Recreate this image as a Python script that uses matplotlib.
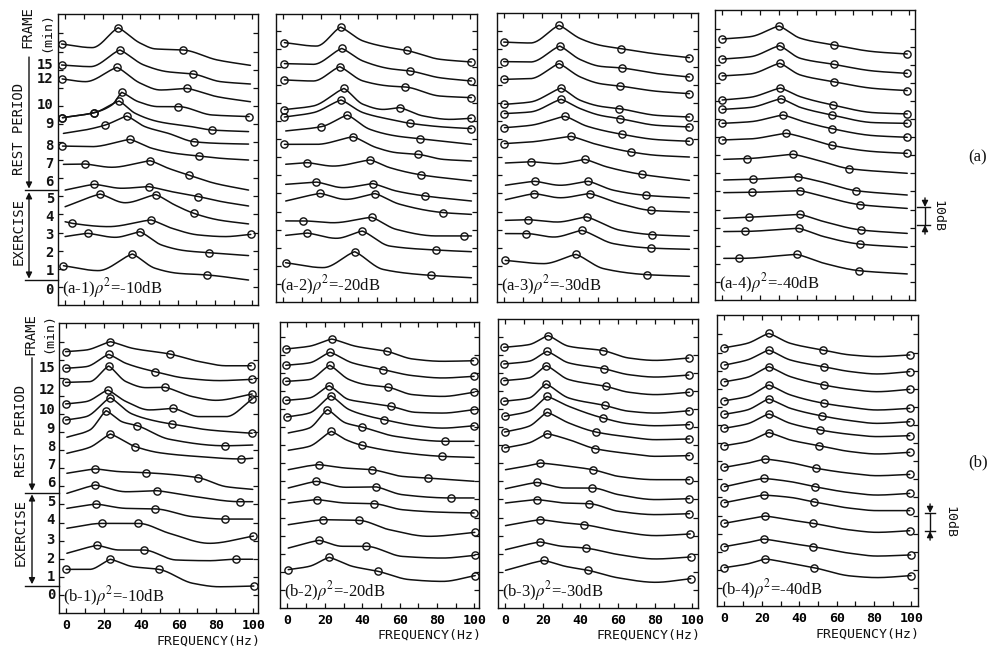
import numpy as np
import matplotlib
matplotlib.use("Agg")
import matplotlib.pyplot as plt
from matplotlib.transforms import blended_transform_factory

plt.rcParams['font.family'] = ['DejaVu Sans Mono', 'DejaVu Sans']
plt.rcParams['mathtext.fontset'] = 'stix'

# ---------------- data: (frequency Hz, level dB, circle-marker flag) ----------------
A1 = [
 [(-2.1,144.2,1),(14.3,142.2,0),(28.2,153.2,1),(40.1,144.6,0),(48.0,141.5,0),(62.9,140.9,1),(81.1,135.4,0),(98.9,132.4,0)],
 [(-2.1,132.6,1),(13.4,131.7,0),(29.1,140.9,1),(41.9,132.6,0),(54.4,128.9,0),(68.3,127.6,1),(82.9,123.4,0),(98.9,122.1,0)],
 [(-1.8,124.9,1),(10.7,123.4,0),(27.6,131.3,1),(40.1,122.5,0),(50.8,118.8,0),(65.1,119.7,1),(81.1,115.1,0),(98.9,112.3,0)],
 [(-1.6,103.5,1),(15.5,106.3,1),(24.8,110.5,0),(30.1,117.5,1),(39.0,112.3,0),(49.7,109.6,0),(60.4,109.6,1),(78.3,105.0,0),(98.2,104.1,1)],
 [(-1.6,103.5,1),(15.5,106.3,1),(28.7,112.7,1),(37.3,105.9,0),(49.7,101.3,0),(67.6,98.5,0),(78.3,96.7,1),(97.9,95.8,0)],
 [(-1.1,94.8,0),(10.5,96.7,0),(21.2,99.4,1),(32.8,104.4,1),(42.6,98.5,0),(55.1,94.8,0),(68.8,90.2,1),(81.8,89.3,0),(97.9,88.9,0)],
 [(-1.6,87.8,1),(14.1,87.5,0),(34.6,91.5,1),(46.2,86.6,0),(58.6,83.8,0),(71.5,82.3,1),(83.6,81.0,0),(97.9,80.1,0)],
 [(-1.1,77.7,0),(10.5,77.9,1),(24.8,76.1,0),(45.3,79.7,1),(55.1,75.5,0),(65.8,71.8,1),(80.0,67.2,0),(97.9,63.5,0)],
 [(-0.2,63.5,0),(15.5,66.7,1),(30.1,64.5,0),(44.4,65.4,1),(56.9,62.6,0),(71.1,59.9,1),(83.6,57.1,0),(97.9,54.7,0)],
 [(-0.2,54.3,0),(18.5,61.3,1),(31.9,56.5,0),(48.3,61.0,1),(58.6,55.2,0),(68.8,50.6,1),(81.8,47.0,0),(97.9,44.8,0)],
 [(-0.2,46.0,0),(3.7,45.1,1),(23.0,43.3,0),(45.8,47.0,1),(56.9,42.4,0),(71.1,38.7,0),(85.4,37.8,0),(99.1,39.0,1)],
 [(-0.2,37.8,0),(11.9,39.6,1),(26.6,37.4,0),(39.9,40.5,1),(51.5,33.1,0),(64.0,30.0,0),(76.5,28.9,1),(97.9,27.3,0)],
 [(-1.1,21.7,1),(17.6,19.0,0),(35.8,28.2,1),(47.9,20.3,0),(60.4,17.5,0),(75.6,16.6,1),(97.9,13.8,0)],
]
A2 = [
 [(0.5,143.3,1),(17.6,141.4,0),(30.5,151.9,1),(42.6,144.2,0),(56.9,140.5,0),(65.8,139.0,1),(83.6,134.1,0),(100.5,132.6,1)],
 [(0.5,131.7,1),(15.9,131.3,0),(31.2,140.1,1),(42.6,133.1,0),(56.9,128.9,0),(67.9,127.6,1),(83.6,123.9,0),(100.5,122.1,1)],
 [(0.5,122.7,1),(15.9,122.1,0),(30.1,130.0,1),(42.6,122.1,0),(56.9,119.3,0),(65.2,118.8,1),(83.6,113.8,0),(100.5,112.9,1)],
 [(0.5,106.3,1),(15.9,108.3,0),(32.4,118.0,1),(42.6,109.2,0),(53.3,106.4,0),(62.2,107.4,1),(74.7,102.8,0),(88.9,100.9,0),(100.5,101.5,1)],
 [(0.5,102.2,1),(15.9,104.6,0),(30.8,111.6,1),(42.6,104.6,0),(56.9,100.9,0),(67.9,98.7,1),(85.4,96.7,0),(100.5,95.8,1)],
 [(1.2,94.5,0),(20.3,96.9,1),(34.2,103.3,1),(46.2,95.4,0),(60.4,91.7,0),(72.9,90.2,1),(100.5,87.1,0)],
 [(0.5,87.1,1),(17.6,87.1,0),(37.3,91.3,1),(49.7,85.3,0),(60.4,82.5,0),(71.8,81.6,1),(85.4,78.8,0),(100.5,77.9,0)],
 [(1.2,76.1,0),(12.7,77.0,1),(26.6,75.1,0),(46.5,78.5,1),(56.9,74.2,0),(73.8,70.2,1),(100.5,66.9,0)],
 [(1.2,65.0,0),(17.6,66.3,1),(31.9,63.2,0),(47.8,65.4,1),(60.4,61.3,0),(75.6,58.6,1),(100.5,55.8,0)],
 [(1.2,55.8,0),(19.6,60.0,1),(33.3,56.7,0),(49.0,59.9,1),(62.2,54.0,0),(85.4,49.4,1),(100.5,48.4,0)],
 [(1.2,44.8,0),(10.5,44.8,1),(26.6,43.8,0),(47.1,46.8,1),(60.4,40.1,0),(81.8,36.5,0),(96.6,36.5,1),(100.5,36.5,0)],
 [(1.2,36.8,0),(12.8,38.1,1),(28.3,35.2,0),(42.2,39.2,1),(56.9,30.9,0),(81.8,28.7,1),(100.5,27.8,0)],
 [(1.1,21.7,1),(21.2,19.0,0),(38.1,27.8,1),(53.3,18.0,0),(78.8,14.7,1),(100.5,13.4,0)],
]
A3 = [
 [(-0.4,143.6,1),(13.9,143.1,0),(29.2,152.9,1),(40.6,145.5,0),(51.3,141.8,0),(62.4,140.0,1),(79.9,137.2,0),(98.9,135.0,1)],
 [(-0.4,132.8,1),(13.9,132.6,0),(29.6,141.4,1),(40.6,133.9,0),(51.3,130.2,0),(62.6,129.3,1),(81.6,126.2,0),(98.9,124.3,1)],
 [(-0.4,123.0,1),(13.9,123.4,0),(29.2,131.7,1),(40.6,124.3,0),(51.3,120.6,0),(62.0,119.3,1),(81.6,116.4,0),(98.9,115.1,1)],
 [(0.0,109.2,1),(13.9,110.5,0),(30.3,118.2,1),(40.6,111.4,0),(51.3,108.1,0),(61.5,106.8,1),(81.6,103.1,0),(98.9,102.2,1)],
 [(0.0,104.1,1),(13.9,105.0,0),(30.3,112.0,1),(40.6,106.8,0),(51.3,103.1,0),(61.7,101.3,1),(81.6,97.6,0),(98.9,96.7,1)],
 [(0.0,96.3,1),(13.9,97.6,0),(32.4,102.6,1),(44.2,97.1,0),(63.1,92.6,1),(81.6,89.7,0),(98.9,88.8,1)],
 [(0.0,87.5,1),(13.9,88.4,0),(35.7,91.5,1),(47.8,87.5,0),(67.6,82.9,1),(81.6,81.0,0),(98.9,80.1,0)],
 [(0.5,76.8,0),(14.4,77.5,1),(28.2,76.4,0),(43.0,78.8,1),(54.9,74.6,0),(73.4,70.5,1),(98.9,67.2,0)],
 [(0.5,64.5,0),(16.2,66.7,1),(29.9,64.5,0),(44.9,66.7,1),(58.5,61.7,0),(75.9,58.9,1),(98.9,57.5,0)],
 [(0.5,56.5,0),(16.0,59.9,1),(29.9,57.6,0),(45.6,59.9,1),(62.0,54.3,0),(78.4,50.6,1),(98.9,49.7,0)],
 [(0.5,45.1,0),(12.7,45.5,1),(28.2,44.2,0),(43.9,47.0,1),(62.0,39.6,0),(79.0,37.2,1),(98.9,36.3,0)],
 [(0.5,37.8,0),(11.6,37.8,1),(26.4,35.9,0),(41.5,39.6,1),(58.5,32.2,0),(78.1,29.8,1),(98.9,29.1,0)],
 [(0.4,23.0,1),(21.0,21.2,0),(38.3,26.3,1),(53.1,18.4,0),(76.3,15.1,1),(98.9,14.2,0)],
]
A4 = [
 [(-0.2,144.2,1),(15.0,145.5,0),(30.3,151.4,1),(41.7,144.6,0),(59.5,140.9,1),(80.9,137.2,0),(98.8,135.9,1)],
 [(-0.2,133.1,1),(15.0,134.4,0),(30.5,140.5,1),(41.7,133.5,0),(59.5,130.2,1),(80.9,126.5,0),(98.8,125.2,1)],
 [(-0.2,123.8,1),(15.0,124.9,0),(30.7,130.8,1),(41.7,124.3,0),(59.5,120.6,1),(80.9,116.9,0),(98.8,115.7,1)],
 [(-0.2,110.5,1),(15.0,112.0,0),(31.0,117.1,1),(41.7,112.3,0),(59.2,107.7,1),(80.9,103.5,0),(98.8,102.8,1)],
 [(-0.2,105.3,1),(15.0,106.4,0),(31.4,111.2,1),(41.7,106.4,0),(58.6,102.2,1),(80.9,98.0,0),(98.8,97.6,1)],
 [(-0.2,97.6,1),(15.0,98.5,0),(32.4,102.2,1),(43.5,98.5,0),(58.3,94.7,1),(80.9,90.8,0),(98.8,89.9,1)],
 [(0.0,88.4,1),(15.0,89.0,0),(34.2,92.1,1),(45.3,89.3,0),(58.3,85.5,1),(80.9,82.0,0),(98.8,81.0,1)],
 [(0.7,77.7,0),(13.2,78.1,1),(37.8,80.5,1),(50.6,77.3,0),(67.7,72.6,1),(98.8,70.0,0)],
 [(0.7,66.3,0),(16.2,66.7,1),(40.3,68.1,1),(52.4,65.4,0),(71.5,60.4,1),(98.8,58.0,0)],
 [(0.7,59.3,0),(15.9,59.5,1),(41.4,60.4,1),(54.3,57.1,0),(73.4,52.7,1),(98.8,50.6,0)],
 [(0.7,45.1,0),(14.1,45.7,1),(41.4,47.3,1),(54.3,43.3,0),(74.0,38.7,1),(98.8,36.8,0)],
 [(0.7,37.8,0),(12.3,37.9,1),(40.8,39.6,1),(54.3,35.0,0),(73.4,30.9,1),(98.8,29.1,0)],
 [(0.7,23.0,0),(9.1,23.0,1),(39.9,25.2,1),(54.3,20.3,0),(73.1,16.2,1),(98.8,14.4,0)],
]
B1 = [
 [(-0.5,144.4,1),(10.5,145.3,0),(23.5,149.9,1),(35.5,146.2,0),(55.1,143.1,1),(71.1,138.9,0),(85.4,136.6,0),(98.8,136.6,1)],
 [(-0.5,135.2,1),(10.5,136.1,0),(22.6,142.9,1),(31.9,137.9,0),(47.4,133.3,1),(64.0,129.7,0),(81.8,128.4,0),(99.3,129.1,1)],
 [(-0.5,127.4,1),(12.3,127.8,0),(22.6,136.5,1),(31.9,127.8,0),(42.6,124.5,0),(52.9,124.7,1),(67.6,119.5,0),(80.0,117.5,0),(99.3,121.0,1)],
 [(-0.5,115.5,1),(10.5,116.8,0),(22.1,123.2,1),(31.9,116.8,0),(44.4,112.2,0),(57.2,113.1,1),(71.1,108.5,0),(85.4,108.5,0),(99.3,118.2,1)],
 [(-0.5,106.6,1),(10.5,108.5,0),(23.4,119.0,1),(35.0,110.0,0),(47.9,106.0,0),(56.3,104.4,1),(76.5,101.1,0),(99.3,99.3,1)],
 [(0.2,97.1,0),(12.3,101.0,0),(21.2,111.8,1),(30.1,105.5,0),(37.8,103.5,1),(55.0,96.0,0),(84.8,92.4,1),(99.6,92.8,0)],
 [(0.2,88.2,0),(12.3,91.5,0),(23.5,98.9,1),(36.9,91.9,1),(50.0,88.5,0),(71.1,86.4,0),(93.4,85.1,1),(99.6,85.5,0)],
 [(0.2,77.2,0),(15.5,79.6,1),(28.3,78.1,0),(42.6,77.5,1),(70.2,74.8,1),(85.4,69.8,0),(99.6,68.3,0)],
 [(0.2,66.1,0),(15.5,70.7,1),(31.9,67.0,0),(48.3,67.6,1),(67.6,64.5,0),(92.9,61.5,1),(99.6,61.5,0)],
 [(0.2,57.8,0),(15.9,60.2,1),(31.9,57.8,0),(47.6,57.5,1),(67.6,53.2,0),(84.8,51.9,1),(99.6,51.9,0)],
 [(0.2,46.8,0),(19.1,49.5,1),(38.5,49.5,1),(55.1,44.0,0),(76.5,38.5,0),(100.0,42.5,1)],
 [(0.2,33.0,0),(16.4,37.4,1),(28.3,34.8,0),(41.2,34.8,1),(58.6,29.3,0),(76.5,28.9,0),(90.7,29.7,1),(99.6,29.7,0)],
 [(-0.2,24.1,1),(12.3,24.1,0),(23.5,29.7,1),(35.5,25.6,0),(49.4,24.1,1),(67.6,16.4,0),(81.8,14.5,0),(100.2,14.9,1)],
]
B2 = [
 [(-0.9,143.1,1),(11.6,144.6,0),(23.7,148.6,1),(36.5,144.6,0),(53.1,141.8,1),(66.8,137.6,0),(82.9,136.3,0),(99.5,136.6,1)],
 [(-0.9,134.1,1),(11.6,135.4,0),(22.8,141.3,1),(34.8,135.4,0),(51.3,131.7,1),(66.8,128.4,0),(82.9,127.1,0),(99.8,128.0,1)],
 [(-0.9,125.2,1),(11.6,126.2,0),(22.6,134.1,1),(33.0,126.2,0),(41.9,123.4,0),(54.0,121.9,1),(66.8,117.9,0),(82.9,116.9,0),(99.8,119.2,1)],
 [(-0.9,114.7,1),(11.6,116.0,0),(22.3,122.8,1),(33.0,115.1,0),(43.7,113.3,0),(55.3,111.4,1),(68.6,108.1,0),(82.9,107.7,0),(99.8,109.6,1)],
 [(-0.5,105.5,1),(11.6,107.7,0),(23.2,117.3,1),(33.0,109.6,0),(43.7,105.9,0),(51.5,104.1,1),(68.6,100.7,0),(82.9,99.4,0),(99.8,100.7,1)],
 [(0.4,96.7,0),(11.6,99.4,0),(21.4,109.6,1),(31.2,102.2,0),(39.8,100.0,1),(57.9,94.8,0),(84.3,92.1,1),(99.8,92.1,0)],
 [(0.4,87.1,0),(11.6,89.3,0),(23.5,97.6,1),(31.2,93.0,0),(39.8,89.9,1),(63.3,85.6,0),(82.5,83.8,1),(99.8,83.2,0)],
 [(0.4,76.4,0),(9.8,78.3,0),(16.6,79.2,1),(31.2,77.3,0),(45.1,76.4,1),(61.5,72.7,0),(74.9,71.8,1),(99.8,70.0,0)],
 [(0.4,66.3,0),(15.5,70.0,1),(31.2,66.7,0),(47.6,66.9,1),(61.5,62.6,0),(87.3,60.8,1),(99.8,60.8,0)],
 [(0.4,58.0,0),(15.7,59.9,1),(31.2,58.0,0),(46.3,57.6,1),(61.5,54.3,0),(82.9,52.9,0),(99.8,52.5,1)],
 [(0.4,46.0,0),(19.1,48.8,1),(38.3,48.4,1),(54.3,43.3,0),(75.8,39.6,0),(100.2,41.8,1)],
 [(0.4,33.1,0),(16.9,37.4,1),(29.4,34.1,0),(41.9,34.1,1),(61.5,28.5,0),(82.9,27.6,0),(100.2,29.1,1)],
 [(0.4,21.2,1),(11.6,23.0,0),(22.3,28.0,1),(34.8,23.0,0),(48.3,20.3,1),(65.1,15.7,0),(82.9,14.7,0),(100.4,17.9,1)],
]
B3 = [
 [(-0.9,144.0,1),(12.5,145.5,0),(22.8,150.5,1),(33.9,144.6,0),(52.2,142.2,1),(66.0,138.1,0),(80.2,136.8,0),(98.0,138.1,1)],
 [(-0.9,134.8,1),(12.5,136.3,0),(22.3,141.8,1),(33.9,135.4,0),(52.6,132.2,1),(66.0,128.9,0),(80.2,127.6,0),(98.0,128.7,1)],
 [(-0.9,125.6,1),(12.5,127.1,0),(21.9,133.9,1),(33.9,126.2,0),(53.5,122.5,1),(66.0,119.2,0),(80.2,117.9,0),(98.4,119.2,1)],
 [(-0.9,114.2,1),(12.5,116.0,0),(21.7,123.8,1),(33.9,116.0,0),(53.1,111.9,1),(66.0,108.7,0),(80.2,107.7,0),(98.4,109.0,1)],
 [(-0.5,105.9,1),(12.5,108.7,0),(22.3,116.9,1),(33.9,111.4,0),(52.0,105.0,1),(66.0,101.8,0),(80.2,100.7,0),(98.4,101.3,1)],
 [(-0.5,97.2,1),(12.5,100.4,0),(22.3,108.1,1),(33.9,102.2,0),(48.5,97.2,1),(66.0,94.5,0),(80.2,93.0,0),(98.4,93.4,1)],
 [(-0.5,88.4,1),(12.5,91.2,0),(22.3,96.3,1),(33.9,93.0,0),(48.1,88.0,1),(66.0,85.3,0),(80.2,83.8,0),(98.4,84.2,1)],
 [(0.0,76.4,0),(10.7,78.3,0),(18.7,80.1,1),(33.9,78.3,0),(46.7,76.4,1),(60.6,72.7,0),(80.2,70.9,0),(98.4,70.9,1)],
 [(0.0,65.9,0),(16.9,69.4,1),(32.1,66.3,0),(46.3,66.3,1),(60.6,62.6,0),(80.2,59.9,0),(98.4,60.4,1)],
 [(0.0,58.0,0),(16.9,59.9,1),(32.1,58.0,0),(44.9,57.6,1),(60.6,53.4,0),(80.2,51.6,0),(98.4,52.1,1)],
 [(0.0,45.5,0),(18.7,48.8,1),(32.1,47.0,0),(42.1,46.0,1),(60.6,42.4,0),(80.2,40.0,0),(98.8,40.9,1)],
 [(0.0,32.2,0),(18.4,36.5,1),(30.3,34.1,0),(42.8,33.1,1),(60.6,29.5,0),(80.2,27.1,0),(99.1,28.2,1)],
 [(0.0,20.8,0),(20.5,26.3,1),(32.1,23.0,0),(44.2,20.8,1),(60.6,16.6,0),(80.2,14.2,0),(99.1,16.2,1)],
]
B4 = [
 [(0.0,142.7,1),(12.1,145.1,0),(23.7,150.6,1),(35.3,145.1,0),(52.8,141.4,1),(67.4,138.7,0),(81.6,137.8,0),(99.1,138.7,1)],
 [(0.0,133.1,1),(12.1,135.9,0),(23.7,141.4,1),(35.3,135.9,0),(53.1,132.2,1),(67.4,129.5,0),(81.6,128.2,0),(99.1,129.5,1)],
 [(0.0,123.9,1),(12.1,126.3,0),(23.7,132.2,1),(35.3,126.7,0),(53.1,122.1,1),(67.4,119.7,0),(81.6,118.4,0),(99.1,119.7,1)],
 [(0.0,113.4,1),(12.1,115.7,0),(23.7,122.1,1),(35.3,116.6,0),(53.1,112.0,1),(67.4,109.8,0),(81.6,108.3,0),(99.1,109.2,1)],
 [(0.0,105.9,1),(12.1,108.3,0),(23.7,114.4,1),(35.3,109.2,0),(52.2,105.0,1),(67.4,102.4,0),(81.6,100.9,0),(99.1,101.8,1)],
 [(0.0,98.2,1),(12.1,100.6,0),(23.7,106.1,1),(35.3,100.9,0),(51.3,97.2,1),(67.4,94.8,0),(81.6,93.6,0),(99.1,94.1,1)],
 [(0.0,88.6,1),(12.1,90.8,0),(23.7,95.8,1),(35.3,91.7,0),(50.4,88.6,1),(67.4,85.3,0),(81.6,84.0,0),(99.1,84.9,1)],
 [(0.0,76.6,1),(12.1,78.8,0),(21.9,81.2,1),(35.3,79.2,0),(49.0,76.1,1),(67.4,73.3,0),(81.6,72.0,0),(99.1,72.7,1)],
 [(0.0,65.9,1),(12.1,68.7,0),(21.0,70.5,1),(35.3,68.7,0),(48.3,65.9,1),(67.4,62.6,0),(81.6,61.3,0),(99.1,62.2,1)],
 [(0.0,57.1,1),(12.1,59.5,0),(21.0,61.3,1),(35.3,60.0,0),(47.8,57.5,1),(67.4,54.0,0),(81.6,52.7,0),(99.1,52.7,1)],
 [(0.0,45.7,1),(12.1,47.9,0),(21.9,49.7,1),(35.3,47.5,0),(47.2,45.7,1),(67.4,42.0,0),(81.6,40.7,0),(99.1,41.6,1)],
 [(0.0,32.8,1),(12.1,35.0,0),(21.0,37.0,1),(35.3,34.6,0),(47.2,32.8,1),(67.4,29.1,0),(81.6,27.6,0),(99.5,28.2,1)],
 [(0.0,21.2,1),(12.1,23.2,0),(21.9,26.0,1),(35.3,23.6,0),(47.8,21.2,1),(67.4,16.6,0),(81.6,15.7,0),(99.8,16.8,1)],
]

PANELS = [[A1, A2, A3, A4], [B1, B2, B3, B4]]
ROW_TAGS = ['a', 'b']
RHO2_DB = [-10, -20, -30, -40]
FRAME_LABELS = ['0', '1', '2', '3', '4', '5', '6', '7', '8', '9', '10', '12', '15']
FRAME_LEVELS_A = [8.3, 18.8, 28.7, 38.7, 48.6, 58.6, 68.0, 77.9, 87.8, 100.0, 110.5, 124.9, 132.6]
FRAME_LEVELS_B = [9.9, 19.9, 29.8, 40.3, 51.4, 61.3, 71.8, 81.8, 91.7, 101.7, 112.2, 123.2, 135.4]
XTICKS = [0, 20, 40, 60, 80, 100]
XMINOR = [10, 30, 50, 70, 90]
YTICKS = list(range(10, 160, 10))
SCALE_DB = 10

# ---------------- layout (figure pixels) ----------------
W, H = 992, 651
BOXES = [[(58, 14, 258, 305), (276, 14, 477, 302), (497, 13, 698, 302), (715, 10, 915, 300)],
         [(59, 323, 258, 613), (280, 322, 479, 608), (498, 319, 698, 608), (717, 315, 918, 606)]]
PX_PER_HZ = 1.87
PX_PER_DB = 1.81
XLEFT = -4.0
INK = '#111111'


def fx(px):
    return px / W


def fy(py):
    return 1 - py / H


def smooth(f, L, sharp=0.7, n=300):
    h = np.diff(f)
    delta = np.diff(L) / h
    npt = len(f)
    dl = np.zeros(npt)
    dr = np.zeros(npt)
    for k in range(1, npt - 1):
        a, b = delta[k - 1], delta[k]
        if a * b > 0:
            w1 = 2 * h[k] + h[k - 1]
            w2 = h[k] + 2 * h[k - 1]
            d = (w1 + w2) / (w1 / a + w2 / b)
            dl[k] = dr[k] = d
        elif a > 0 and b < 0:  # local maximum -> pointed resonance peak
            dl[k] = sharp * a
            dr[k] = sharp * b
    dr[0] = delta[0]
    dl[-1] = delta[-1]
    xs = np.linspace(f[0], f[-1], n)
    idx = np.clip(np.searchsorted(f, xs, side='right') - 1, 0, npt - 2)
    t = (xs - f[idx]) / h[idx]
    h00 = 2 * t**3 - 3 * t**2 + 1
    h10 = t**3 - 2 * t**2 + t
    h01 = -2 * t**3 + 3 * t**2
    h11 = t**3 - t**2
    ys = h00 * L[idx] + h10 * h[idx] * dr[idx] + h01 * L[idx + 1] + h11 * h[idx] * dl[idx + 1]
    return xs, ys


fig = plt.figure(figsize=(W / 100, H / 100), dpi=100)
fig.patch.set_facecolor('white')

axes = [[None] * 4 for _ in range(2)]
for r in range(2):
    for c in range(4):
        L_, T_, R_, B_ = BOXES[r][c]
        ax = fig.add_axes([fx(L_), fy(B_), (R_ - L_) / W, (B_ - T_) / H])
        axes[r][c] = ax
        ax.set_xlim(XLEFT, XLEFT + (R_ - L_) / PX_PER_HZ)
        ax.set_ylim(0, (B_ - T_) / PX_PER_DB)
        for curve in PANELS[r][c]:
            f = np.array([p[0] for p in curve], float)
            lv = np.array([p[1] for p in curve], float)
            mk = np.array([p[2] for p in curve], bool)
            xs, ys = smooth(f, lv)
            ax.plot(xs, ys, color=INK, lw=1.1, solid_capstyle='round')
            ax.plot(f[mk], lv[mk], 'o', ms=5.2, mfc='none', mec=INK, mew=1.0)
        ax.set_xticks(XTICKS)
        ax.set_xticks(XMINOR, minor=True)
        ax.set_yticks(YTICKS)
        ax.tick_params(which='both', direction='in', top=True, right=True,
                       length=3.5, width=0.9, color=INK, labelleft=False, pad=4)
        for s in ax.spines.values():
            s.set_linewidth(1.0)
            s.set_color(INK)
        if r == 0:
            ax.tick_params(labelbottom=False)
        else:
            ax.set_xticklabels([str(v) for v in XTICKS], fontsize=9.5,
                               fontweight='bold', family='DejaVu Sans Mono')
            ax.text(0.75, -0.095, 'FREQUENCY(Hz)', transform=ax.transAxes,
                    ha='center', va='center', fontsize=9.5, family='DejaVu Sans Mono',
                    color=INK)
        tag = '(%s-%d)' % (ROW_TAGS[r], c + 1)
        ax.text(0.022, 0.058, tag + r'$\rho^2$' + '=%ddB' % RHO2_DB[c],
                transform=ax.transAxes, ha='left', va='center', fontsize=12,
                family='Liberation Serif', color=INK)

# ---------------- frame labels, exercise / rest annotations ----------------
ROW_INFO = [
    dict(levels=FRAME_LEVELS_A, rest_top=137.0, arrow_x=29, frame_xy=(27, 27), min_xy=(47, 32),
         rest_xy=(19, 129), ex_xy=(19, 232)),
    dict(levels=FRAME_LEVELS_B, rest_top=141.0, arrow_x=32, frame_xy=(30, 334), min_xy=(49, 333),
         rest_xy=(21, 431), ex_xy=(21, 532)),
]
for r in range(2):
    ax = axes[r][0]
    info = ROW_INFO[r]
    lev = info['levels']
    tr = blended_transform_factory(ax.transAxes, ax.transData)
    for lbl, y in zip(FRAME_LABELS, lev):
        ax.text(-0.02, y, lbl, transform=tr, ha='right', va='center', fontsize=10,
                fontweight='bold', family='DejaVu Sans Mono', color=INK)
    boundary = 0.5 * (lev[5] + lev[6])
    bottom = 0.5 * (lev[0] + lev[1])
    trf = blended_transform_factory(fig.transFigure, ax.transData)
    x_arrow = fx(info['arrow_x'])
    left_px = BOXES[r][0][0]
    for yy in (boundary, bottom):
        ax.plot([fx(25), fx(left_px)], [yy, yy], transform=trf, color=INK, lw=1.0, clip_on=False)
    ax.annotate('', xy=(x_arrow, boundary + 1.0), xytext=(x_arrow, info['rest_top']),
                xycoords=trf, textcoords=trf,
                arrowprops=dict(arrowstyle='-|>', color=INK, lw=1.0, mutation_scale=9,
                                shrinkA=0, shrinkB=0))
    ax.annotate('', xy=(x_arrow, bottom + 1.0), xytext=(x_arrow, boundary - 1.0),
                xycoords=trf, textcoords=trf,
                arrowprops=dict(arrowstyle='<|-|>', color=INK, lw=1.0, mutation_scale=9,
                                shrinkA=0, shrinkB=0))
    fig.text(fx(info['frame_xy'][0]), fy(info['frame_xy'][1]), 'FRAME', rotation=90,
             ha='center', va='center', fontsize=10, family='DejaVu Sans Mono', color=INK)
    fig.text(fx(info['min_xy'][0]), fy(info['min_xy'][1]), '(min)', rotation=90,
             ha='center', va='center', fontsize=9.5, family='DejaVu Sans Mono', color=INK)
    fig.text(fx(info['rest_xy'][0]), fy(info['rest_xy'][1]), 'REST PERIOD', rotation=90,
             ha='center', va='center', fontsize=10, family='DejaVu Sans Mono', color=INK)
    fig.text(fx(info['ex_xy'][0]), fy(info['ex_xy'][1]), 'EXERCISE', rotation=90,
             ha='center', va='center', fontsize=10, family='DejaVu Sans Mono', color=INK)

# ---------------- 10 dB scale bars and row letters ----------------
SCALE_INFO = [dict(base=41.4, bar=1.05, l0=1.01, l1=1.075, txt=1.115, letter=(978, 157)),
              dict(base=41.4, bar=1.06, l0=1.035, l1=1.085, txt=1.16, letter=(978, 462))]
for r in range(2):
    ax = axes[r][3]
    s = SCALE_INFO[r]
    tr = blended_transform_factory(ax.transAxes, ax.transData)
    lo, hi = s['base'], s['base'] + SCALE_DB
    for yy in (lo, hi):
        ax.plot([s['l0'], s['l1']], [yy, yy], transform=tr, color=INK, lw=1.0, clip_on=False)
    ax.plot([s['bar'], s['bar']], [lo, hi], transform=tr, color=INK, lw=1.0, clip_on=False)
    ax.annotate('', xy=(s['bar'], hi), xytext=(s['bar'], hi + 5), xycoords=tr, textcoords=tr,
                arrowprops=dict(arrowstyle='-|>', color=INK, lw=1.0, mutation_scale=9,
                                shrinkA=0, shrinkB=0))
    ax.annotate('', xy=(s['bar'], lo), xytext=(s['bar'], lo - 5), xycoords=tr, textcoords=tr,
                arrowprops=dict(arrowstyle='-|>', color=INK, lw=1.0, mutation_scale=9,
                                shrinkA=0, shrinkB=0))
    ax.text(s['txt'], (lo + hi) / 2, '10dB', transform=tr, rotation=-90, ha='center',
            va='center', fontsize=9.5, family='DejaVu Sans Mono', color=INK)
    fig.text(fx(s['letter'][0]), fy(s['letter'][1]), '(%s)' % ROW_TAGS[r], ha='center',
             va='center', fontsize=12, family='Liberation Serif', color=INK)

fig.savefig('out.png', dpi=100, facecolor='white')
